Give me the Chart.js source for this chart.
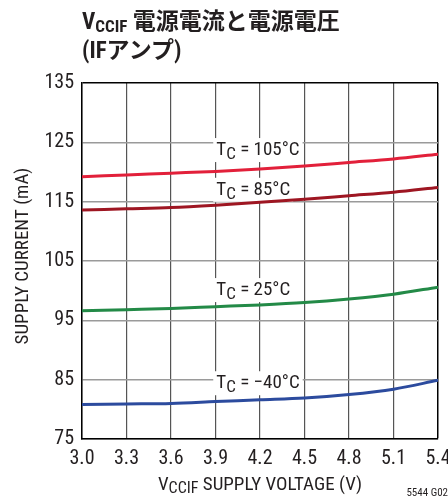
<!DOCTYPE html>
<html>
<head>
<meta charset="utf-8">
<script src="https://cdn.jsdelivr.net/npm/chart.js@4.4.0/dist/chart.umd.min.js"></script>
<style>
body { margin: 0; background: #fff; }
#contenedor { position: relative; width: 448px; height: 500px; }
#titulo {
    position: absolute; left: 82px; top: 7px;
    font: bold 23px "Roboto Condensed", "Noto Sans CJK JP", sans-serif;
    line-height: 29px; color: #231f20; white-space: nowrap;
}
#titulo sub { font-size: 17px; vertical-align: -3px; line-height: 0; }
canvas { position: absolute; left: 0; top: 0; }
</style>
</head>
<body>
<div id="contenedor">
    <canvas id="grafico" width="448" height="500"></canvas>
    <div id="titulo">V<sub>CCIF</sub> 電源電流と電源電圧<br>(IFアンプ)</div>
</div>
<script>
// Datos: corriente de alimentación (mA) vs tensión VCCIF (V)
const voltajes = [3.0, 3.3, 3.6, 3.9, 4.2, 4.5, 4.8, 5.1, 5.4];
const corriente105 = [119.2, 119.5, 119.8, 120.1, 120.5, 121.0, 121.6, 122.2, 123.0];
const corriente85 = [113.6, 113.8, 114.0, 114.4, 114.9, 115.4, 116.0, 116.6, 117.4];
const corriente25 = [96.6, 96.8, 97.0, 97.3, 97.6, 98.0, 98.6, 99.4, 100.6];
const corrienteM40 = [80.8, 80.9, 81.0, 81.3, 81.6, 81.9, 82.5, 83.4, 84.9];

const ticksX = [3.0, 3.3, 3.6, 3.9, 4.2, 4.5, 4.8, 5.1, 5.4];
const ticksY = [75, 85, 95, 105, 115, 125, 135];
const temperaturas = ['105°C', '85°C', '25°C', '−40°C'];

const FUENTE = '"Roboto Condensed", Roboto, sans-serif';
const TEXTO = '#231f20';

// donde va cada etiqueta de temperatura (en unidades de los ejes)
const anclasEtiquetas = [
    { x: 3.905, y: 123.7 },
    { x: 3.905, y: 117.0 },
    { x: 3.905, y: 100.1 },
    { x: 3.905, y: 84.4 }
];

function serie(valores, color) {
    return {
        data: voltajes.map((v, i) => ({ x: v, y: valores[i] })),
        borderColor: color,
        borderWidth: 3,
        pointRadius: 0,
        fill: false,
        cubicInterpolationMode: 'monotone'
    };
}

// texto con subíndice, devuelve el ancho total
function textoConSub(ctx, x, y, partes, tam, tamSub, bajada) {
    let cx = x;
    partes.forEach(p => {
        ctx.font = (p.sub ? tamSub : tam) + 'px ' + FUENTE;
        ctx.fillText(p.t, cx, p.sub ? y + bajada : y);
        cx += ctx.measureText(p.t).width;
    });
    return cx - x;
}

function anchoConSub(ctx, partes, tam, tamSub) {
    let w = 0;
    partes.forEach(p => {
        ctx.font = (p.sub ? tamSub : tam) + 'px ' + FUENTE;
        w += ctx.measureText(p.t).width;
    });
    return w;
}

const etiquetasPlugin = {
    id: 'etiquetas',
    beforeDatasetsDraw(chart) {
        const ctx = chart.ctx;
        const sx = chart.scales.x, sy = chart.scales.y;
        ctx.save();
        ctx.textBaseline = 'alphabetic';
        temperaturas.forEach((t, i) => {
            const px = sx.getPixelForValue(anclasEtiquetas[i].x);
            const py = sy.getPixelForValue(anclasEtiquetas[i].y);
            const partes = [{ t: 'T' }, { t: 'C', sub: true }, { t: ' = ' + t }];
            const w = anchoConSub(ctx, partes, 19, 17);
            ctx.fillStyle = '#fff';
            ctx.fillRect(px - 3, py - 12, w + 6, 24);
            ctx.fillStyle = TEXTO;
            textoConSub(ctx, px, py + 5, partes, 19, 17, 4);
        });
        ctx.restore();
    },
    afterDraw(chart) {
        const ctx = chart.ctx;
        ctx.save();
        ctx.fillStyle = TEXTO;
        ctx.textBaseline = 'alphabetic';
        // título del eje X
        const partesX = [{ t: 'V' }, { t: 'CCIF', sub: true }, { t: ' SUPPLY VOLTAGE (V)' }];
        const wx = anchoConSub(ctx, partesX, 19, 16);
        textoConSub(ctx, 260 - wx / 2, 490, partesX, 19, 16, 3);
        // título del eje Y
        ctx.translate(28, 256);
        ctx.rotate(-Math.PI / 2);
        ctx.font = '19px ' + FUENTE;
        ctx.textAlign = 'center';
        ctx.fillText('SUPPLY CURRENT (mA)', 0, 0);
        ctx.restore();
        ctx.save();
        ctx.fillStyle = TEXTO;
        ctx.font = '11px ' + FUENTE;
        ctx.textAlign = 'right';
        ctx.fillText('5544 G02', 448, 496);
        ctx.restore();
    }
};

new Chart(document.getElementById('grafico'), {
    type: 'line',
    data: {
        datasets: [
            serie(corriente105, '#e2203a'),
            serie(corriente85, '#9e1622'),
            serie(corriente25, '#238a47'),
            serie(corrienteM40, '#2c4b9e')
        ]
    },
    options: {
        responsive: false,
        animation: false,
        devicePixelRatio: 1,
        layout: { padding: { top: 83, right: 10, left: 0, bottom: 0 } },
        plugins: { legend: { display: false }, tooltip: { enabled: false } },
        scales: {
            x: {
                type: 'linear',
                min: 3.0,
                max: 5.4,
                afterBuildTicks: s => { s.ticks = ticksX.map(v => ({ value: v })); },
                afterFit: s => { s.height = 61; s.paddingLeft = 0; s.paddingRight = 0; },
                ticks: {
                    padding: 8,
                    maxRotation: 0,
                    color: TEXTO,
                    font: { family: FUENTE, size: 20 },
                    callback: v => Number(v).toFixed(1)
                },
                grid: {
                    drawTicks: false,
                    color: c => c.tick && c.tick.value >= 5.4 ? '#000' : '#555',
                    lineWidth: c => c.tick && c.tick.value >= 5.4 ? 1.5 : 1.2
                },
                border: { color: '#000', width: 1.5 }
            },
            y: {
                min: 75,
                max: 135,
                afterBuildTicks: s => { s.ticks = ticksY.map(v => ({ value: v })); },
                afterFit: s => { s.width = 82; s.paddingTop = 0; s.paddingBottom = 0; },
                ticks: {
                    padding: 8,
                    color: TEXTO,
                    font: { family: FUENTE, size: 20 }
                },
                grid: {
                    drawTicks: false,
                    color: c => c.tick && c.tick.value >= 135 ? '#000' : '#9a9a9a',
                    lineWidth: 1.5
                },
                border: { color: '#000', width: 1.5 }
            }
        }
    },
    plugins: [etiquetasPlugin]
});
</script>
</body>
</html>
